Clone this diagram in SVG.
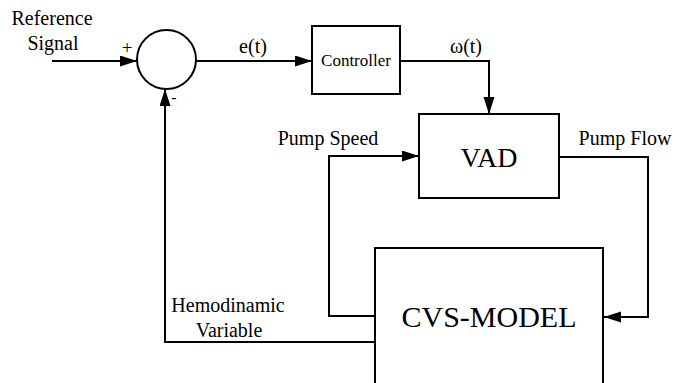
<svg xmlns="http://www.w3.org/2000/svg" width="674" height="383" viewBox="0 0 674 383">
<style>
.box{fill:#fff;stroke:#000;stroke-width:2}
.ln{fill:none;stroke:#000;stroke-width:2}
text{font-family:"Liberation Serif","Times New Roman",serif;fill:#000}
.lb{font-size:20px}
</style>
<defs>
<marker id="ah" markerUnits="userSpaceOnUse" markerWidth="18" markerHeight="12" refX="17" refY="5.5" orient="auto">
<path d="M0,0 L17,5.5 L0,11 z" fill="#000"/>
</marker>
</defs>
<rect width="674" height="383" fill="#fff"/>
<g id="connectors">
<path class="ln" d="M52,61 H137" marker-end="url(#ah)"/>
<path class="ln" d="M196,61 H312" marker-end="url(#ah)"/>
<path class="ln" d="M400,61 H489 V114" marker-end="url(#ah)"/>
<path class="ln" d="M375,316 H329 V156 H419" marker-end="url(#ah)"/>
<path class="ln" d="M559,157 H648 V317 H604" marker-end="url(#ah)"/>
<path class="ln" d="M375,342 H165 V89" marker-end="url(#ah)"/>
</g>
<g id="labels">
<text class="lb" x="52" y="25" text-anchor="middle">Reference</text>
<text class="lb" x="53" y="50" text-anchor="middle">Signal</text>
<text x="127" y="54" font-size="19" text-anchor="middle" fill="#555">+</text>
<text x="174" y="103" font-size="16" text-anchor="middle" font-family="Liberation Sans,Arial,sans-serif">-</text>
<text class="lb" x="253" y="53" text-anchor="middle">e(t)</text>
<text class="lb" x="466" y="53" text-anchor="middle">ω(t)</text>
<text class="lb" x="328" y="145" text-anchor="middle">Pump Speed</text>
<text class="lb" x="625" y="145" text-anchor="middle">Pump Flow</text>
<text class="lb" x="228" y="312" text-anchor="middle">Hemodinamic</text>
<text class="lb" x="229" y="337" text-anchor="middle">Variable</text>
</g>
<g id="sum">
<circle cx="166.5" cy="59.5" r="29.5" class="box"/>
</g>
<g id="controller">
<rect class="box" x="312" y="26" width="88" height="68"/>
<text x="356" y="66" font-size="17" text-anchor="middle">Controller</text>
</g>
<g id="vad">
<rect class="box" x="419" y="114" width="140" height="84"/>
<text x="489" y="167" font-size="28" text-anchor="middle">VAD</text>
</g>
<g id="cvs">
<rect class="box" x="375" y="248" width="228" height="150"/>
<text x="489" y="327" font-size="30" text-anchor="middle">CVS-MODEL</text>
</g>
</svg>
